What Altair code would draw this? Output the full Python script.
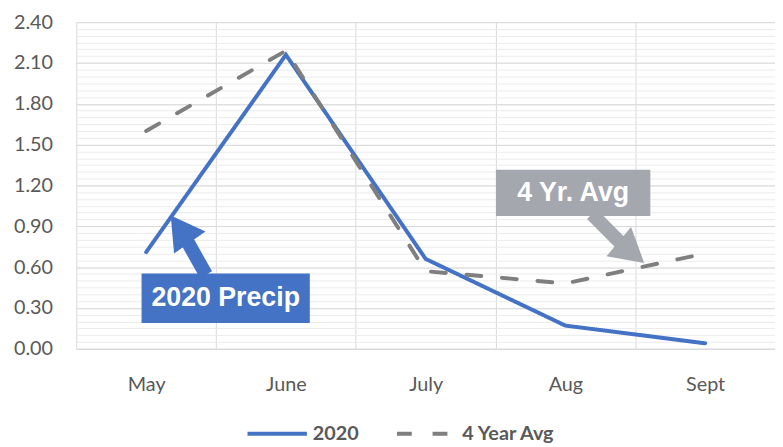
import altair as alt
import pandas as pd

# ---- data ----
months = ["May", "June", "July", "Aug", "Sept"]
precip_2020 = [0.71, 2.16, 0.66, 0.17, 0.04]
avg_4yr = [1.60, 2.19, 0.57, 0.48, 0.70]
series_names = ["2020", "4 Year Avg"]
y_major_ticks = [0.0, 0.3, 0.6, 0.9, 1.2, 1.5, 1.8, 2.1, 2.4]
y_minor_ticks = [round(i * 0.05, 2) for i in range(49)]

# ---- annotation callouts (x in category units: 0 = left edge of May band, 5 = right edge of Sept) ----
box_labels = ["2020 Precip", "4 Yr. Avg"]
box_colors = ["#4472C4", "#A5A7AF"]
box_x = [0.467, 3.003]
box_x2 = [1.671, 4.108]
box_y = [0.553, 1.316]
box_y2 = [0.189, 0.975]
shaft_x = [0.928, 3.690]
shaft_y = [0.545, 0.989]
shaft_x2 = [0.772, 3.916]
shaft_y2 = [0.829, 0.756]
head_x = [0.744, 3.973]
head_y = [0.880, 0.709]
head_angle = [325, 130]

df = pd.DataFrame({
    "month": months * 2,
    "value": precip_2020 + avg_4yr,
    "series": [series_names[0]] * len(months) + [series_names[1]] * len(months),
})

ann = pd.DataFrame({
    "label": box_labels, "color": box_colors,
    "bx": box_x, "bx2": box_x2, "by": box_y, "by2": box_y2,
    "tx": [(a + b) / 2 for a, b in zip(box_x, box_x2)],
    "ty": [(a + b) / 2 for a, b in zip(box_y, box_y2)],
    "sx": shaft_x, "sy": shaft_y, "sx2": shaft_x2, "sy2": shaft_y2,
    "hx": head_x, "hy": head_y, "angle": head_angle,
})

LABEL_FONT = "Lato"
LABEL_COLOR = "#595959"
GRID = "#D9D9D9"

yscale = alt.Scale(domain=[0, 2.4], nice=False, zero=True)
bandscale = alt.Scale(type="band", paddingInner=0, paddingOuter=0)

minor = alt.Chart(df).mark_line(opacity=0).encode(
    x=alt.X("month:N", sort=months, scale=bandscale, axis=None),
    y=alt.Y("value:Q", scale=yscale,
            axis=alt.Axis(orient="left", values=y_minor_ticks, grid=True, gridColor="#EBEBEB",
                          labels=False, ticks=False, domain=False, title=None)),
    detail="series:N",
)

legend = alt.Legend(
    orient="none", legendX=171, legendY=384, direction="horizontal", title=None,
    symbolType="stroke", symbolSize=3600, symbolStrokeWidth=4,
    labelFont=LABEL_FONT, labelFontSize=20, labelFontWeight="bold",
    labelColor=LABEL_COLOR, labelOffset=4, columnPadding=30, padding=0,
)

lines = alt.Chart(df).mark_line(strokeWidth=4, strokeCap="round").encode(
    x=alt.X("month:N", sort=months, scale=bandscale,
            axis=alt.Axis(title=None, tickBand="extent", grid=True, gridColor=GRID,
                          ticks=False, domainColor=GRID, labelFont=LABEL_FONT,
                          labelFontSize=20, labelColor=LABEL_COLOR, labelPadding=26,
                          labelAngle=0)),
    y=alt.Y("value:Q", scale=yscale,
            axis=alt.Axis(orient="left", values=y_major_ticks, format=".2f", grid=True,
                          gridColor=GRID, domain=False, ticks=False, title=None,
                          labelPadding=24, labelFont=LABEL_FONT, labelFontSize=20,
                          labelColor=LABEL_COLOR)),
    color=alt.Color("series:N", scale=alt.Scale(domain=series_names, range=["#4472C4", "#7F7F7F"]),
                    legend=legend),
    strokeDash=alt.StrokeDash("series:N", scale=alt.Scale(domain=series_names, range=[[1, 0], [15, 21]]),
                              legend=legend),
)

xq = alt.Scale(domain=[0, 5], nice=False, zero=False)

rects = alt.Chart(ann).mark_rect().encode(
    x=alt.X("bx:Q", scale=xq, axis=None), x2="bx2:Q",
    y=alt.Y("by:Q", scale=yscale, axis=None), y2="by2:Q",
    color=alt.Color("color:N", scale=None),
)
texts = alt.Chart(ann).mark_text(font="Liberation Sans", fontWeight="bold", fontSize=27,
                                 color="white", align="center", baseline="middle").encode(
    x=alt.X("tx:Q", scale=xq, axis=None),
    y=alt.Y("ty:Q", scale=yscale, axis=None),
    text="label:N",
)
shafts = alt.Chart(ann).mark_rule(strokeWidth=14).encode(
    x=alt.X("sx:Q", scale=xq, axis=None), x2="sx2:Q",
    y=alt.Y("sy:Q", scale=yscale, axis=None), y2="sy2:Q",
    color=alt.Color("color:N", scale=None),
)
heads = alt.Chart(ann).mark_point(shape="triangle-up", filled=True, size=1500, opacity=1).encode(
    x=alt.X("hx:Q", scale=xq, axis=None),
    y=alt.Y("hy:Q", scale=yscale, axis=None),
    angle=alt.Angle("angle:Q", scale=None),
    color=alt.Color("color:N", scale=None),
)
annotations = alt.layer(rects, texts, shafts, heads)

chart = alt.layer(minor, lines, annotations).resolve_scale(
    x="independent"
).resolve_axis(
    y="independent"
).properties(
    width=706, height=330,
    autosize=alt.AutoSizeParams(type="none"),
    padding={"left": 69, "top": 12, "right": 0, "bottom": 97},
).configure_view(stroke=None)

chart.save("out.html", embed_options={"renderer": "svg", "actions": False})
